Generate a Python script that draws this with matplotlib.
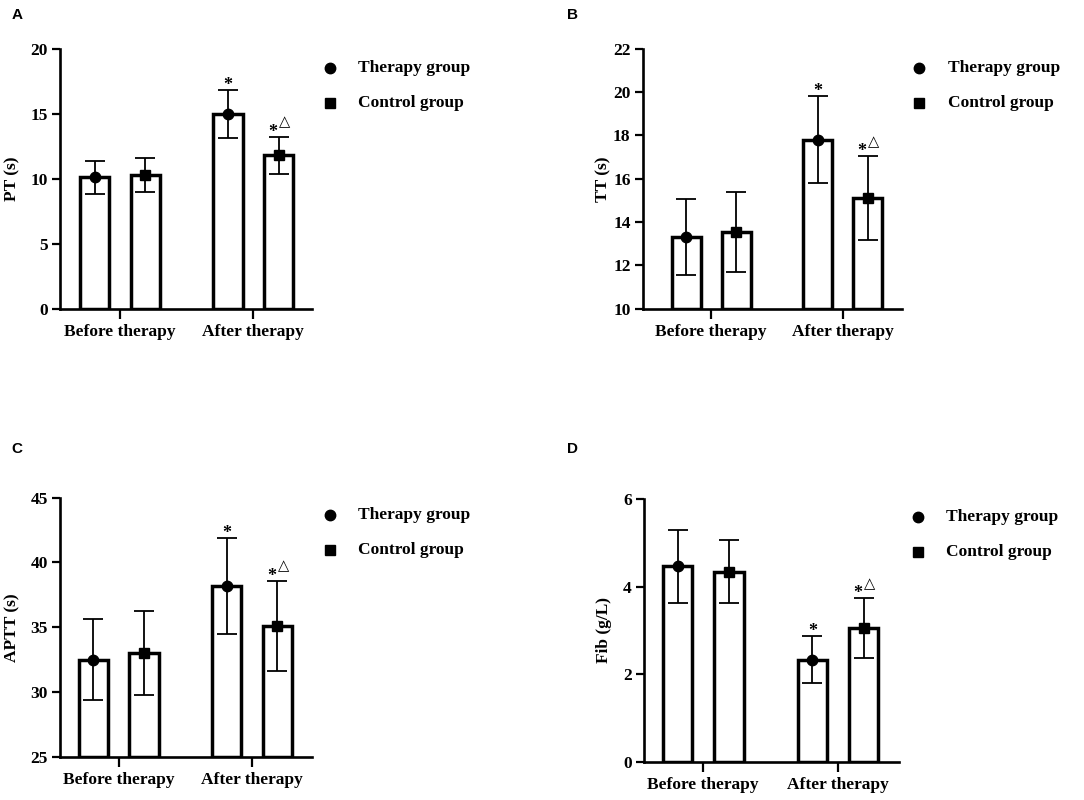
import matplotlib
matplotlib.use("Agg")
import matplotlib.pyplot as plt
import numpy as np

plt.rcParams['font.family'] = ['Liberation Serif', 'DejaVu Sans']
plt.rcParams['font.weight'] = 'bold'

groups = ['Before therapy', 'After therapy']
series = ['Therapy group', 'Control group']

pt_mean = [[10.1, 15.0], [10.3, 11.8]]
pt_sd = [[1.25, 1.85], [1.3, 1.45]]
tt_mean = [[13.3, 17.8], [13.55, 15.1]]
tt_sd = [[1.75, 2.0], [1.83, 1.93]]
aptt_mean = [[32.5, 38.2], [33.0, 35.1]]
aptt_sd = [[3.1, 3.7], [3.25, 3.5]]
fib_mean = [[4.46, 2.33], [4.34, 3.05]]
fib_sd = [[0.83, 0.54], [0.72, 0.68]]

panels = [
    dict(letter='A', ylabel='PT (s)', mean=pt_mean, sd=pt_sd, ylim=(0, 20), yticks=np.arange(0, 21, 5),
         rect=[0.0554, 0.614, 0.2325, 0.325], xlim=(-0.45, 1.44), ylab_x=-0.159,
         leg=(1.071, 1.183, 0.927, 0.792), lpos=(17, 15)),
    dict(letter='B', ylabel='TT (s)', mean=tt_mean, sd=tt_sd, ylim=(10, 22), yticks=np.arange(10, 23, 2),
         rect=[0.593, 0.614, 0.239, 0.325], xlim=(-0.52, 1.45), ylab_x=-0.12,
         leg=(1.066, 1.178, 0.927, 0.792), lpos=(573, 15)),
    dict(letter='C', ylabel='APTT (s)', mean=aptt_mean, sd=aptt_sd, ylim=(25, 45), yticks=np.arange(25, 46, 5),
         rect=[0.0554, 0.054, 0.2325, 0.324], xlim=(-0.44, 1.45), ylab_x=-0.159,
         leg=(1.071, 1.183, 0.934, 0.799), lpos=(17, 449)),
    dict(letter='D', ylabel='Fib (g/L)', mean=fib_mean, sd=fib_sd, ylim=(0, 6), yticks=np.arange(0, 7, 2),
         rect=[0.594, 0.0475, 0.235, 0.329], xlim=(-0.44, 1.45), ylab_x=-0.125,
         leg=(1.075, 1.184, 0.932, 0.798), lpos=(573, 449)),
]

markers = ['o', 's']
offsets = [-0.19, 0.19]
bar_w = 0.22
fs = 12.5

W, H = 1084, 800
fig = plt.figure(figsize=(W / 100, H / 100), dpi=100)

for p in panels:
    ax = fig.add_axes(p['rect'])
    x = np.arange(len(groups))
    base = p['ylim'][0]
    for k in range(2):
        m = np.array(p['mean'][k])
        s = np.array(p['sd'][k])
        xs = x + offsets[k]
        ax.bar(xs, m - base, bottom=base, width=bar_w, color='white', edgecolor='black',
               linewidth=2.5, zorder=2)
        ax.errorbar(xs, m, yerr=s, fmt='none', ecolor='black', elinewidth=1.3,
                    capsize=7, capthick=1.3, zorder=3)
        ax.plot(xs, m, linestyle='none', marker=markers[k], markersize=7.5 if k == 0 else 7,
                color='black', zorder=4, clip_on=False)

    # significance marks on the after-therapy bars
    top_t = p['mean'][0][1] + p['sd'][0][1]
    ax.annotate('*', (x[1] + offsets[0], top_t), xytext=(0, 0), textcoords='offset points',
                ha='center', va='baseline', fontsize=13)
    top_c = p['mean'][1][1] + p['sd'][1][1]
    ax.annotate('*', (x[1] + offsets[1], top_c), xytext=(-4, 0), textcoords='offset points',
                ha='center', va='baseline', fontsize=13)
    ax.annotate('\u25b3', (x[1] + offsets[1], top_c), xytext=(4.5, 5.5), textcoords='offset points',
                ha='center', va='bottom', fontsize=10.5, fontweight='normal', family='DejaVu Sans')

    ax.set_xlim(*p['xlim'])
    ax.set_ylim(*p['ylim'])
    ax.set_yticks(p['yticks'])
    ax.set_xticks(x)
    ax.set_xticklabels(groups)
    for sp in ['top', 'right']:
        ax.spines[sp].set_visible(False)
    for sp in ['left', 'bottom']:
        ax.spines[sp].set_linewidth(1.9)
    ax.tick_params(axis='y', length=5.8, width=1.6, labelsize=fs, pad=3)
    ax.tick_params(axis='x', length=7, width=1.6, labelsize=fs, pad=4)
    ax.set_ylabel(p['ylabel'], fontsize=fs, fontweight='bold')
    ax.yaxis.set_label_coords(p['ylab_x'], 0.5)

    mx, tx, y1, y2 = p['leg']
    for k, yy in enumerate([y1, y2]):
        ax.plot([mx], [yy], marker=markers[k], markersize=7.5 if k == 0 else 7, color='black',
                transform=ax.transAxes, clip_on=False, linestyle='none')
        ax.text(tx, yy, series[k], transform=ax.transAxes, ha='left', va='center',
                fontsize=fs, fontweight='bold')

    lx, ly = p['lpos']
    fig.text(lx / W, 1 - ly / H, p['letter'], ha='center', va='center', fontsize=11,
             fontweight='bold', family='Liberation Sans')

fig.savefig('out.png', dpi=100, facecolor='white')
